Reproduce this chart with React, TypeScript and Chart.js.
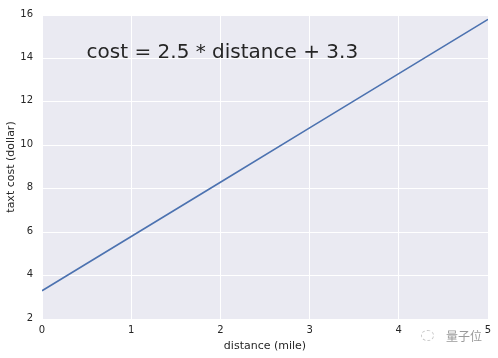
import React, { useEffect, useRef } from "react";
import { Chart, registerables } from "chart.js";

Chart.register(...registerables);

const distance = [0, 1, 2, 3, 4, 5];
const cost = [3.3, 5.8, 8.3, 10.8, 13.3, 15.8];
const xTicks = [0, 1, 2, 3, 4, 5];
const yTicks = [2, 4, 6, 8, 10, 12, 14, 16];
const equationText = "cost = 2.5 * distance + 3.3";
const xLabel = "distance (mile)";
const yLabel = "taxt cost (dollar)";
const watermark = "量子位";

const FONT = "'DejaVu Sans', sans-serif";

const bgPlugin = {
  id: "bgPlugin",
  beforeDraw(chart: any) {
    const { ctx, chartArea } = chart;
    ctx.save();
    ctx.fillStyle = "#EAEAF2";
    ctx.fillRect(chartArea.left, chartArea.top, chartArea.right - chartArea.left, chartArea.bottom - chartArea.top);
    ctx.restore();
  },
  afterDatasetsDraw(chart: any) {
    const { ctx, scales } = chart;
    ctx.save();
    ctx.fillStyle = "#262626";
    ctx.font = `20px ${FONT}`;
    ctx.textBaseline = "alphabetic";
    ctx.textAlign = "left";
    ctx.fillText(equationText, scales.x.getPixelForValue(0.5), scales.y.getPixelForValue(14));
    ctx.restore();
  },
};

export default function App() {
  const ref = useRef<HTMLCanvasElement>(null);
  useEffect(() => {
    document.body.style.margin = "0";
    const chart = new Chart(ref.current!, {
      type: "line",
      data: {
        datasets: [
          {
            data: distance.map((d, i) => ({ x: d, y: cost[i] })),
            borderColor: "#4C72B0",
            borderWidth: 1.6,
            pointRadius: 0,
            tension: 0,
          },
        ],
      },
      options: {
        animation: false,
        responsive: false,
        layout: { padding: { top: 13, right: 10, left: 0, bottom: 0 } },
        plugins: { legend: { display: false }, tooltip: { enabled: false } },
        scales: {
          x: {
            type: "linear",
            min: 0,
            max: 5,
            afterBuildTicks: (s: any) => {
              s.ticks = xTicks.map((v) => ({ value: v }));
            },
            afterFit: (s: any) => {
              s.height = 39;
            },
            grid: { color: "#ffffff", lineWidth: 1, drawTicks: false },
            border: { display: false },
            ticks: { color: "#262626", font: { family: FONT, size: 10 }, padding: 5, maxRotation: 0 },
            title: { display: true, text: xLabel, color: "#262626", font: { family: FONT, size: 11 }, padding: { top: 0, bottom: 5 } },
          },
          y: {
            type: "linear",
            min: 2,
            max: 16,
            afterBuildTicks: (s: any) => {
              s.ticks = yTicks.map((v) => ({ value: v }));
            },
            afterFit: (s: any) => {
              s.width = 42;
            },
            grid: { color: "#ffffff", lineWidth: 1, drawTicks: false },
            border: { display: false },
            ticks: { color: "#262626", font: { family: FONT, size: 10 }, padding: 9, labelOffset: -1 },
            title: { display: true, text: yLabel, color: "#262626", font: { family: FONT, size: 11 }, padding: { top: 5, bottom: 0 } },
          },
        },
      },
      plugins: [bgPlugin],
    } as any);
    return () => chart.destroy();
  }, []);
  return (
    <div style={{ position: "relative", width: 498, height: 358 }}>
      <canvas ref={ref} width={498} height={358} style={{ display: "block" }} />
      <div style={{ position: "absolute", left: 421, top: 330, width: 13, height: 11, border: "1px dashed #c8c8c8", borderRadius: "50%", boxSizing: "border-box" }} />
      <div style={{ position: "absolute", left: 446, top: 328, fontFamily: "'Noto Sans CJK SC', sans-serif", fontSize: 12, color: "#9a9a9a", lineHeight: "16px" }}>
        {watermark}
      </div>
    </div>
  );
}
